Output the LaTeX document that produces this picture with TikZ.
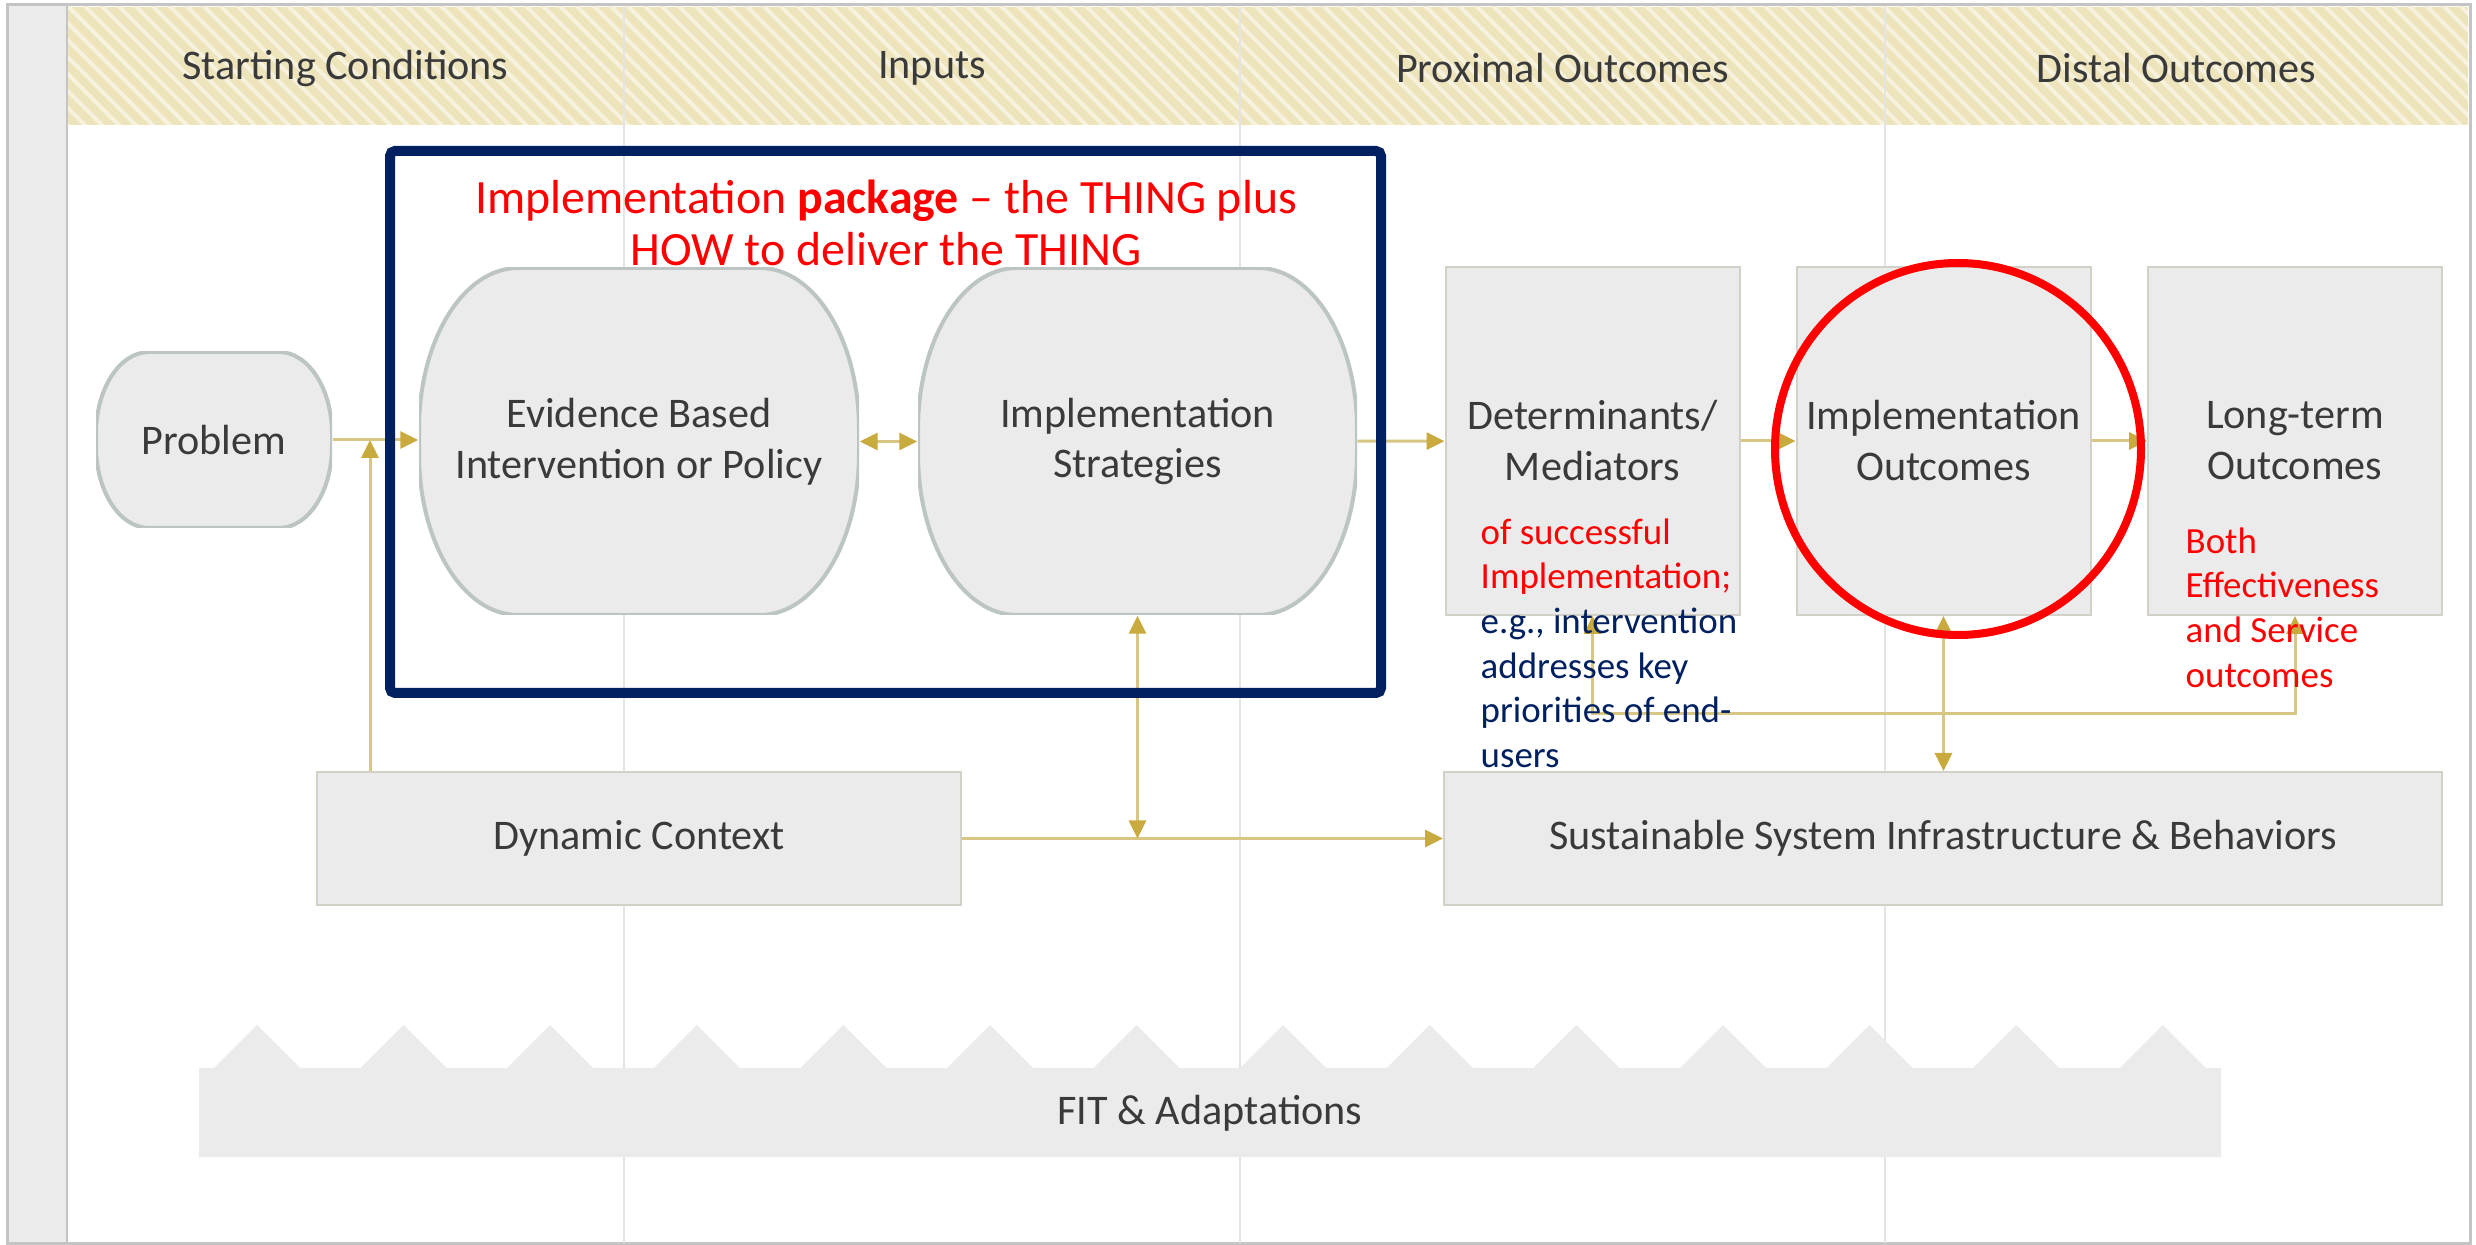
\documentclass[tikz,border=0pt]{standalone}
\usepackage{fontspec}
\setmainfont{Carlito}
\usetikzlibrary{arrows.meta,calc,patterns.meta}
\definecolor{navy}{HTML}{002060}
\definecolor{annred}{HTML}{FF0000}
\definecolor{hdrfill}{HTML}{EDE4BC}
\definecolor{hdrline}{HTML}{F7F2DE}
\definecolor{boxfill}{HTML}{EBEBEB}
\definecolor{boxedge}{HTML}{D3D0C7}
\definecolor{barreledge}{HTML}{BCC4C4}
\definecolor{gold}{HTML}{D8C684}
\definecolor{goldtip}{HTML}{C9AA3E}
\definecolor{lanegray}{HTML}{E4E4E4}
\definecolor{framegray}{HTML}{C4C4C4}
\definecolor{txtgray}{HTML}{3A3A3A}
\tikzset{
  graytext/.style={text=txtgray, font=\fontsize{12}{14.5}\selectfont, align=center},
  barrel/.style={graytext, inner sep=0pt, path picture={
      \draw[barreledge, line width=0.04cm, fill=boxfill]
        let \p1=($(path picture bounding box.north east)-(path picture bounding box.center)$),
            \n1={0.45*\x1}, \n2={0.93*\y1} in
        ([yshift=-\n2]path picture bounding box.north west)
          arc[start angle=180, end angle=90, x radius=\n1, y radius=\n2]
        -- ([xshift=-\n1]path picture bounding box.north east)
          arc[start angle=90, end angle=0, x radius=\n1, y radius=\n2]
        -- ([yshift=\n2]path picture bounding box.south east)
          arc[start angle=0, end angle=-90, x radius=\n1, y radius=\n2]
        -- ([xshift=\n1]path picture bounding box.south west)
          arc[start angle=270, end angle=180, x radius=\n1, y radius=\n2]
        -- cycle;
    }},
  outcome/.style={graytext, draw=boxedge, line width=0.02cm, fill=boxfill, inner sep=0pt,
    minimum width=2.94cm, minimum height=3.48cm},
  context/.style={graytext, draw=boxedge, line width=0.02cm, fill=boxfill, inner sep=0pt,
    minimum height=1.33cm},
  header/.style={text=txtgray, font=\fontsize{12}{14.5}\selectfont},
  note/.style={font=\fontsize{10.5}{12.7}\selectfont, align=left, inner sep=0pt, anchor=north west},
  flow/.style={draw=gold, line width=0.03cm, -{Triangle[length=0.18cm,width=0.17cm,color=goldtip]}},
  flowboth/.style={draw=gold, line width=0.03cm,
    {Triangle[length=0.18cm,width=0.17cm,color=goldtip]}-{Triangle[length=0.18cm,width=0.17cm,color=goldtip]}}
}
\begin{document}
\begin{tikzpicture}
\useasboundingbox (0,0) rectangle (24.76,-12.45);
\fill[white] (0,0) rectangle (24.76,-12.45);

\fill[hdrfill] (0.67,-0.07) rectangle (24.68,-1.25);
\fill[pattern={Lines[angle=-45,distance=0.12cm,line width=0.04cm]}, pattern color=hdrline]
  (0.67,-0.07) rectangle (24.68,-1.25);
\filldraw[fill=boxfill, draw=framegray, line width=0.02cm] (0.07,-0.05) rectangle (0.67,-12.43);
\draw[framegray, line width=0.03cm] (0.07,-0.05) rectangle (24.70,-12.43);
\foreach \x in {6.24,12.40,18.85}
  \draw[lanegray, line width=0.015cm] (\x,-0.07) -- (\x,-12.43);

\node[header] (hdstart) at (3.455,-0.68) {Starting Conditions};
\node[header] (hdinputs) at (9.32,-0.68) {Inputs};
\node[header] (hdprox) at (15.625,-0.68) {Proximal Outcomes};
\node[header] (hddistal) at (21.765,-0.68) {Distal Outcomes};

\fill[boxfill] (1.99,-11.57) -- (1.99,-10.68)
  \foreach \k in {0,...,13} {
    -- ({2.57+1.466*\k-0.43},-10.68) -- ({2.57+1.466*\k},-10.25) -- ({2.57+1.466*\k+0.43},-10.68)
  } -- (22.21,-10.68) -- (22.21,-11.57) -- cycle;
\node[graytext] (fit) at (12.10,-11.13) {FIT \& Adaptations};

\node[barrel, minimum width=2.36cm, minimum height=1.76cm] (problem) at (2.14,-4.40) {Problem};
\node[barrel, minimum width=4.40cm, minimum height=3.47cm] (evidence) at (6.39,-4.415) {Evidence Based\\Intervention or Policy};
\node[barrel, minimum width=4.39cm, minimum height=3.47cm] (strategies) at (11.375,-4.415) {Implementation\\Strategies};
\node[outcome] (determinants) at (15.925,-4.41) {Determinants/\\Mediators};
\node[outcome] (implout) at (19.435,-4.41) {Implementation\\Outcomes};
\node[outcome] (longterm) at (22.95,-4.41) {Long-term\\Outcomes};
\node[context, minimum width=6.44cm] (dynamic) at (6.39,-8.385) {Dynamic Context};
\node[context, minimum width=9.98cm] (sustain) at (19.43,-8.385) {Sustainable System Infrastructure \& Behaviors};

\coordinate (join) at (3.70,-4.40);
\draw[flow] (problem.east) -- (problem.east -| evidence.west);
\draw[flow] (dynamic.north -| join) -- (join);
\draw[flowboth] (evidence) -- (strategies);
\draw[flow] (strategies) -- (determinants);
\draw[flow] (determinants) -- (implout);
\draw[flow] (implout) -- (longterm);
\draw[flow] (dynamic) -- (sustain);
\draw[flowboth] (strategies.south) -- (strategies.south |- dynamic.east);
\draw[flowboth] (implout.south) -- (implout.south |- sustain.north);
\draw[flowboth] (determinants.south) -- ++(0,-0.98) -| (longterm.south);

\draw[annred, line width=0.08cm] (19.58,-4.49) ellipse (1.83 and 1.86);
\draw[navy, line width=0.1cm, rounded corners=0.05cm] (3.90,-1.51) rectangle (13.81,-6.93);
\node[text=annred, font=\fontsize{13.6}{14.6}\selectfont, align=center] (pkgtitle) at (8.86,-2.23)
  {Implementation \textbf{package} – the THING plus\\HOW to deliver the THING};

\node[note] (detnote) at (14.80,-5.18)
  {\textcolor{annred}{of successful}\\\textcolor{annred}{Implementation;}\\\textcolor{navy}{e.g., intervention}\\
   \textcolor{navy}{addresses key}\\\textcolor{navy}{priorities of end-}\\\textcolor{navy}{users}};
\node[note, text=annred] (longnote) at (21.85,-5.27)
  {Both\\Effectiveness\\and Service\\outcomes};
\end{tikzpicture}
\end{document}
